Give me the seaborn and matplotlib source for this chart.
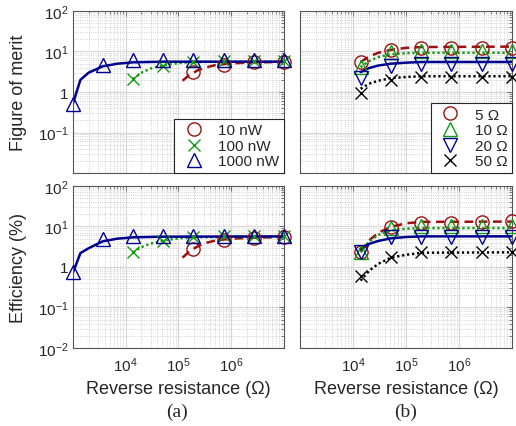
import numpy as np
import matplotlib
matplotlib.use("Agg")
import matplotlib.pyplot as plt
from matplotlib.ticker import FixedLocator, FixedFormatter, LogLocator, NullFormatter
from matplotlib.lines import Line2D
import seaborn as sns

sns.set_style("white")
plt.rcParams['font.family'] = ['Liberation Sans', 'DejaVu Sans']
plt.rcParams['mathtext.fontset'] = 'custom'
plt.rcParams['mathtext.rm'] = 'Liberation Sans'
plt.rcParams['mathtext.default'] = 'regular'

# measured points (reverse resistance, ohm)
r_all = [1e3, 3.73e3, 1.39e4, 5.18e4, 1.93e5, 7.20e5, 2.68e6, 1e7]
r_hi = r_all[2:]
r_top = r_all[4:]

# (a) source power series
pow_labels = ["10 nW", "100 nW", "1000 nW"]
fom_10nw = [3.2, 4.7, 5.5, 5.6]
fom_100nw = [2.1, 4.5, 5.6, 5.9, 5.9, 5.9]
fom_1000nw = [0.5, 4.6, 6.0, 6.1, 6.1, 6.1, 6.1, 6.1]
eff_10nw = [2.8, 4.7, 5.3, 5.5]
eff_100nw = [2.3, 4.5, 5.5, 5.8, 5.8, 5.8]
eff_1000nw = [0.77, 4.9, 5.7, 5.9, 5.9, 5.9, 5.9, 5.9]

# (b) load series
load_labels = ["5 \u03a9", "10 \u03a9", "20 \u03a9", "50 \u03a9"]
fom_5 = [5.5, 10.6, 12.0, 12.3, 12.3, 12.3]
fom_10 = [4.1, 9.7, 10.0, 10.0, 10.0, 10.0]
fom_20 = [2.2, 4.5, 5.0, 5.0, 5.0, 5.0]
fom_50 = [0.95, 2.0, 2.35, 2.35, 2.35, 2.35]
eff_5 = [2.4, 9.6, 12.3, 12.3, 12.8, 13.4]
eff_10 = [2.3, 9.1, 10.2, 10.2, 10.2, 10.2]
eff_20 = [2.3, 5.4, 5.4, 5.4, 5.4, 5.4]
eff_50 = [0.61, 1.8, 2.3, 2.3, 2.3, 2.3]

# fitted curves
cx_p1000 = [1e3, 1.4e3, 2e3, 3.7e3, 7e3, 1.4e4, 5e4, 1e7]
cfom_p1000 = [0.5, 2.0, 3.0, 4.3, 5.0, 5.4, 5.6, 5.6]
ceff_p1000 = [0.7, 2.2, 2.9, 4.3, 5.0, 5.4, 5.6, 5.7]
cx_p100 = [1.39e4, 2e4, 3e4, 5.2e4, 1e5, 2e5, 1e7]
cfom_p100 = [2.1, 3.0, 3.8, 4.6, 5.2, 5.5, 5.7]
ceff_p100 = [2.3, 3.1, 3.8, 4.5, 5.1, 5.4, 5.6]
cx_p10 = [1.2e5, 1.6e5, 2.2e5, 3e5, 5e5, 1e6, 3e6, 1e7]
cfom_p10 = [1.9, 2.6, 3.3, 3.9, 4.6, 5.1, 5.4, 5.5]
ceff_p10 = [1.7, 2.4, 3.1, 3.8, 4.5, 5.0, 5.3, 5.5]

cx_load = [1.39e4, 2e4, 3e4, 5.2e4, 1e5, 2e5, 1e7]
cfom_r5 = [5.5, 7.5, 9.3, 11.0, 12.3, 12.9, 13.2]
cfom_r10 = [4.1, 5.8, 7.3, 8.6, 9.1, 9.3, 9.3]
cfom_r20 = [3.1, 3.9, 4.5, 5.0, 5.3, 5.5, 5.5]
cfom_r50 = [1.2, 1.6, 1.9, 2.2, 2.35, 2.45, 2.45]
ceff_r5 = [2.4, 4.5, 7.0, 9.8, 12.0, 13.0, 13.2]
ceff_r10 = [2.3, 4.2, 6.2, 8.0, 8.8, 9.1, 9.1]
ceff_r20 = [2.8, 3.7, 4.4, 5.1, 5.5, 5.7, 5.7]
ceff_r50 = [0.46, 0.8, 1.2, 1.7, 2.0, 2.25, 2.3]

RED = '#9b1010'
GREEN = '#139a13'
BLUE = '#000090'
BLACK = '#000000'
DASH = (3.5, 2.2)
DOT = (0.9, 1.1)

def style_ax(ax, bottom_row):
  ax.set_xscale('log')
  ax.set_yscale('log')
  ax.set_xlim(1e3, 1e7)
  ax.set_ylim(1e-2, 1e2)
  ax.xaxis.set_major_locator(FixedLocator([1e4, 1e5, 1e6]))
  ax.xaxis.set_minor_locator(LogLocator(base=10, subs=np.arange(2, 10), numticks=30))
  ax.yaxis.set_major_locator(FixedLocator([1e-2, 1e-1, 1, 1e1, 1e2]))
  ax.yaxis.set_minor_locator(LogLocator(base=10, subs=np.arange(2, 10), numticks=30))
  ax.xaxis.set_minor_formatter(NullFormatter())
  ax.yaxis.set_minor_formatter(NullFormatter())
  if bottom_row:
    ax.xaxis.set_major_formatter(FixedFormatter(['$10^{4}$', '$10^{5}$', '$10^{6}$']))
    ax.set_xlabel('Reverse resistance (\u03a9)', fontsize=13, color='#262626')
    ax.xaxis.set_label_coords(0.5, -0.2)
  else:
    ax.xaxis.set_major_formatter(NullFormatter())
  ax.grid(True, which='major', color='#d6d6d6', linewidth=0.8, linestyle='-')
  ax.grid(True, which='minor', color='#c4c4c4', linewidth=0.6, linestyle=':')
  ax.set_axisbelow(True)
  ax.tick_params(which='both', direction='in', top=True, right=True, colors='#555555',
                 labelcolor='#262626', labelsize=11)
  ax.tick_params(which='major', length=3.5, width=0.6)
  ax.tick_params(which='minor', length=2, width=0.5)
  ax.tick_params(axis='x', pad=5)
  ax.tick_params(axis='y', pad=3)
  for s in ax.spines.values():
    s.set_color('#555555')
    s.set_linewidth(0.8)

def left_ylabels(ax, top_row, text):
  labs = ['', '$10^{-1}$', '1', '$10^{1}$', '$10^{2}$'] if top_row else \
         ['$10^{-2}$', '$10^{-1}$', '1', '$10^{1}$', '$10^{2}$']
  ax.yaxis.set_major_formatter(FixedFormatter(labs))
  ax.set_ylabel(text, fontsize=13, color='#262626')
  ax.yaxis.set_label_coords(-0.215, 0.5)

def curve(ax, x, y, color, dashes=None):
  ls = '-' if dashes is None else (0, dashes)
  sns.lineplot(x=x, y=y, ax=ax, color=color, lw=1.8, estimator=None, sort=False,
               linestyle=ls)

def marks(ax, x, y, color, marker):
  ms = 8.5 if marker == 'x' else 9.5
  ax.plot(x, y, linestyle='none', marker=marker, ms=ms, mfc='none', mec=color, mew=1.0,
          clip_on=False, zorder=5)

fig = plt.figure(figsize=(5.16, 4.27), dpi=100)
ax_a1 = fig.add_axes([0.1409, 0.5925, 0.4095, 0.3794])
ax_a2 = fig.add_axes([0.1409, 0.1827, 0.4095, 0.3794])
ax_b1 = fig.add_axes([0.5814, 0.5925, 0.4109, 0.3794])
ax_b2 = fig.add_axes([0.5814, 0.1827, 0.4109, 0.3794])

for ax, top in [(ax_a1, True), (ax_a2, False), (ax_b1, True), (ax_b2, False)]:
  style_ax(ax, not top)
left_ylabels(ax_a1, True, 'Figure of merit')
left_ylabels(ax_a2, False, 'Efficiency (%)')
ax_b1.yaxis.set_major_formatter(NullFormatter())
ax_b2.yaxis.set_major_formatter(NullFormatter())

# (a) panels
for ax, f10, f100, f1000, c10, c100, c1000 in [
    (ax_a1, fom_10nw, fom_100nw, fom_1000nw, cfom_p10, cfom_p100, cfom_p1000),
    (ax_a2, eff_10nw, eff_100nw, eff_1000nw, ceff_p10, ceff_p100, ceff_p1000)]:
  curve(ax, cx_p10, c10, RED, DASH)
  curve(ax, cx_p100, c100, GREEN, DOT)
  curve(ax, cx_p1000, c1000, BLUE)
  marks(ax, r_top, f10, RED, 'o')
  marks(ax, r_hi, f100, GREEN, 'x')
  marks(ax, r_all, f1000, BLUE, '^')

# (b) panels
for ax, d5, d10, d20, d50, c5, c10, c20, c50 in [
    (ax_b1, fom_5, fom_10, fom_20, fom_50, cfom_r5, cfom_r10, cfom_r20, cfom_r50),
    (ax_b2, eff_5, eff_10, eff_20, eff_50, ceff_r5, ceff_r10, ceff_r20, ceff_r50)]:
  curve(ax, cx_load, c5, RED, DASH)
  curve(ax, cx_load, c10, GREEN, DOT)
  curve(ax, cx_load, c20, BLUE)
  curve(ax, cx_load, c50, BLACK, DOT)
  marks(ax, r_hi, d5, RED, 'o')
  marks(ax, r_hi, d10, GREEN, '^')
  marks(ax, r_hi, d20, BLUE, 'v')
  marks(ax, r_hi, d50, BLACK, 'x')

def legend_handle(color, marker):
  ms = 8.5 if marker == 'x' else 9.5
  return Line2D([], [], linestyle='none', marker=marker, ms=ms, mfc='none', mec=color, mew=1.0)

h_a = [legend_handle(RED, 'o'), legend_handle(GREEN, 'x'), legend_handle(BLUE, '^')]
h_b = [legend_handle(RED, 'o'), legend_handle(GREEN, '^'), legend_handle(BLUE, 'v'),
       legend_handle(BLACK, 'x')]
for ax, h, labs in [(ax_a1, h_a, pow_labels), (ax_b1, h_b, load_labels)]:
  leg = ax.legend(h, labs, loc='lower right', borderaxespad=0, fontsize=11, fancybox=False,
                  framealpha=1, edgecolor='#262626', handlelength=2.0, handletextpad=0.6,
                  labelspacing=0.1, borderpad=0.3)
  leg.get_frame().set_linewidth(0.8)
  leg.set_zorder(10)

fig.text(177 / 516, 1 - 412 / 427, '(a)', ha='center', va='center', fontsize=14,
         family='Liberation Serif')
fig.text(406 / 516, 1 - 412 / 427, '(b)', ha='center', va='center', fontsize=14,
         family='Liberation Serif')

fig.savefig('out.png', dpi=100)
